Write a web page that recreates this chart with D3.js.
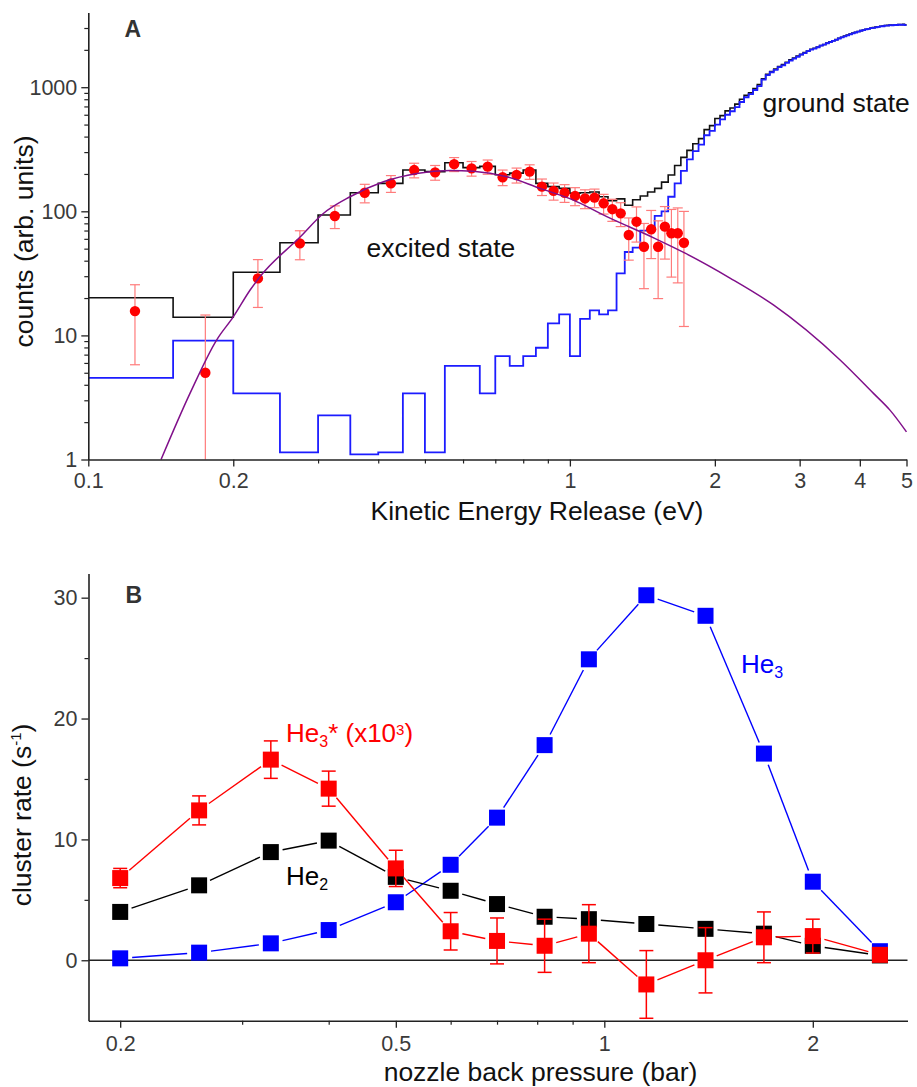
<!DOCTYPE html>
<html>
<head>
<meta charset="utf-8">
<script src="https://cdn.jsdelivr.net/npm/d3@7"></script>
<style>
  html, body { margin: 0; padding: 0; background: #fff; }
  svg { display: block; font-family: "Liberation Sans", Arial, Helvetica, sans-serif; }
</style>
</head>
<body>
<svg id="fig" width="917" height="1087"></svg>
<script>
// ---------- Panel A: kinetic energy release spectra ----------
// lower edges of the 0.05 eV histogram bins
const keBinStarts = [
  0.10, 0.15, 0.20, 0.25, 0.30, 0.35, 0.40, 0.45, 0.50, 0.55,
  0.60, 0.65, 0.70, 0.75, 0.80, 0.85, 0.90, 0.95, 1.00, 1.05,
  1.10, 1.15, 1.20, 1.25, 1.30, 1.35, 1.40, 1.45, 1.50, 1.55,
  1.60, 1.65, 1.70, 1.75, 1.80, 1.85, 1.90, 1.95, 2.00, 2.05,
  2.10, 2.15, 2.20, 2.25, 2.30, 2.35, 2.40, 2.45, 2.50, 2.55,
  2.60, 2.65, 2.70, 2.75, 2.80, 2.85, 2.90, 2.95, 3.00, 3.05,
  3.10, 3.15, 3.20, 3.25, 3.30, 3.35, 3.40, 3.45, 3.50, 3.55,
  3.60, 3.65, 3.70, 3.75, 3.80, 3.85, 3.90, 3.95, 4.00, 4.05,
  4.10, 4.15, 4.20, 4.25, 4.30, 4.35, 4.40, 4.45, 4.50, 4.55,
  4.60, 4.65, 4.70, 4.75, 4.80, 4.85, 4.90, 4.95
];
const keRangeEnd = 5.0;

// all events (black histogram)
const totalCounts = [
  20.1, 14.0, 32.3, 55.8, 93.4, 141, 168, 215, 209, 246,
  225, 230, 197, 203, 215, 168, 158, 153, 140, 141,
  143, 131, 122, 126, 112, 124, 133, 143, 153, 172,
  196, 234, 272, 310, 350, 385, 455, 490, 560, 590,
  645, 680, 730, 800, 860, 900, 975, 1050, 1170, 1270,
  1340, 1400, 1470, 1520, 1590, 1660, 1720, 1780, 1840, 1900,
  1960, 2020, 2060, 2110, 2170, 2210, 2270, 2320, 2370, 2420,
  2480, 2530, 2580, 2630, 2680, 2730, 2770, 2810, 2860, 2890,
  2930, 2960, 3000, 3020, 3050, 3070, 3100, 3110, 3140, 3150,
  3170, 3160, 3190, 3180, 3200, 3190, 3210, 3180
];

// ground state contribution (blue histogram)
const groundCounts = [
  4.54, 9.08, 3.41, 1.14, 2.27, 1.10, 1.14, 3.41, 1.14, 5.68,
  5.68, 3.41, 6.81, 5.68, 6.81, 7.95, 12.5, 14.8, 6.81, 13.6,
  15.9, 14.8, 15.9, 31.6, 47, 51, 70, 72, 92, 100,
  131, 168, 212, 262, 305, 345, 410, 445, 500, 550,
  600, 640, 690, 760, 830, 880, 950, 1020, 1150, 1250,
  1320, 1380, 1450, 1500, 1570, 1640, 1700, 1760, 1830, 1880,
  1950, 2010, 2050, 2100, 2160, 2200, 2260, 2310, 2360, 2410,
  2470, 2520, 2570, 2620, 2670, 2720, 2760, 2800, 2850, 2880,
  2920, 2950, 2990, 3010, 3040, 3060, 3090, 3100, 3130, 3140,
  3160, 3150, 3180, 3170, 3190, 3180, 3200, 3170
];

// excited state points (bin centres) with errors
const excitedE = [
  0.125, 0.175, 0.225, 0.275, 0.325, 0.375, 0.425, 0.475, 0.525, 0.575,
  0.625, 0.675, 0.725, 0.775, 0.825, 0.875, 0.925, 0.975, 1.025, 1.075,
  1.125, 1.175, 1.225, 1.275, 1.325, 1.375, 1.425, 1.475, 1.525, 1.575,
  1.625, 1.675, 1.725
];
const excitedCounts = [
  15.7, 5.0, 28.8, 55.2, 91.6, 141, 168, 215, 206, 240,
  222, 229, 188, 196, 209, 158, 146, 141, 133, 127,
  129, 116, 104, 96.3, 64.4, 82.5, 51.8, 71.6, 51.8, 75.2,
  66.5, 66.5, 55.8
];
const excitedErr = [
  9.9, 9.6, 12, 14.5, 19, 24, 26, 29, 28, 31,
  30, 30, 27, 27, 28, 24, 23, 23, 22, 22,
  22, 21, 21, 21, 24, 26, 28, 30, 32, 34,
  37, 40, 44
];

// model curve for the excited state
const fitE = [0.1416, 0.1626, 0.1848, 0.2, 0.2168, 0.2274, 0.2753, 0.3076, 0.3496, 0.41,
              0.481, 0.564, 0.63, 0.74, 0.867, 1.017, 1.193, 1.5, 1.735, 2.15,
              2.646, 3.64, 4.27, 4.62, 5.0];
const fitCounts = [1, 3.41, 9.22, 14.1, 23.2, 29.8, 62, 96, 131, 173,
                   202, 213, 210, 190, 153, 123, 90.5, 60.6, 46, 29,
                   17.6, 6.34, 3.41, 2.5, 1.67];

const keTicksMajor = [0.1, 0.2, 1, 2, 3, 4, 5];
const keTicksMinor = [0.3, 0.4, 0.5, 0.6, 0.7, 0.8, 0.9];
const countTicksMajor = [1, 10, 100, 1000];
const countTicksMinor = [2, 3, 4, 5, 6, 7, 8, 9, 20, 30, 40, 50, 60, 70, 80, 90,
                         200, 300, 400, 500, 600, 700, 800, 900, 2000, 3000];

// ---------- Panel B: cluster rates vs nozzle pressure ----------
const pressure = [0.2, 0.26, 0.33, 0.4, 0.5, 0.6, 0.7, 0.82, 0.95, 1.15, 1.4, 1.7, 2.0, 2.5];
const rateHe3 = [0.16, 0.63, 1.4, 2.5, 4.8, 7.9, 11.8, 17.8, 24.9, 30.2, 28.5, 17.1, 6.5, 0.75];
const rateHe2 = [4.0, 6.2, 8.95, 9.9, 6.9, 5.75, 4.65, 3.6, 3.4, 3.0, 2.6, 2.2, 1.2, 0.4];
const rateHe3Star = [6.8, 12.4, 16.6, 14.2, 7.6, 2.4, 1.6, 1.2, 2.2, -2.0, 0.0, 1.9, 2.0, 0.45];
const errHe3Star = [0.8, 1.2, 1.55, 1.45, 1.5, 1.55, 1.9, 2.2, 2.4, 2.8, 2.7, 2.1, 1.4, 0.3];

const pressureTicksMajor = [0.2, 0.5, 1, 2];
const pressureTicksMinor = [0.3, 0.4, 0.6, 0.7, 0.8, 0.9];
const rateTicksMajor = [0, 10, 20, 30];
const rateTicksMinor = [5, 15, 25];

// ---------- drawing ----------
const FONT = '"Liberation Sans", Arial, Helvetica, sans-serif';
const AXIS_COLOR = "#222";
const LABEL_COLOR = "#3a3a3a";
const svg = d3.select("#fig");
svg.append("rect").attr("width", 917).attr("height", 1087).attr("fill", "#fff");

function styleAxis(g, fontSize) {
  g.attr("font-family", FONT);
  g.select(".domain").attr("stroke", AXIS_COLOR).attr("stroke-width", 1.6);
  g.selectAll(".tick line").attr("stroke", AXIS_COLOR).attr("stroke-width", 1.3);
  g.selectAll(".tick text").attr("font-size", fontSize).attr("fill", LABEL_COLOR);
}
function minorAxis(g) {
  g.select(".domain").remove();
  g.selectAll(".tick line").attr("stroke", AXIS_COLOR).attr("stroke-width", 1.2);
}

// Panel A scales
const xA = d3.scaleLog().domain([0.1, 5]).range([88.3, 906.5]);
const yA = d3.scaleLog().domain([1, 4000]).range([459.5, 12.5]);

const gA = svg.append("g");

// histograms
const histLine = d3.line().x(d => xA(d[0])).y(d => yA(d[1])).curve(d3.curveStepAfter);
function histPoints(vals) {
  const pts = keBinStarts.map((e, i) => [e, vals[i]]);
  pts.push([keRangeEnd, vals[vals.length - 1]]);
  return pts;
}
gA.append("path").attr("d", histLine(histPoints(totalCounts)))
  .attr("fill", "none").attr("stroke", "#111").attr("stroke-width", 1.6);
gA.append("path").attr("d", histLine(histPoints(groundCounts)))
  .attr("fill", "none").attr("stroke", "#1c1cff").attr("stroke-width", 1.8);

// excited-state points with error bars
const exData = excitedE.map((e, i) => ({ e, v: excitedCounts[i], err: excitedErr[i] }));
const errA = gA.append("g").attr("stroke", "#ff7b7b").attr("stroke-width", 1.2);
exData.forEach(d => {
  const x = xA(d.e);
  const hi = d.v + d.err, lo = d.v - d.err;
  const yHi = yA(hi);
  const yLo = lo > 1 ? yA(lo) : yA(1);
  errA.append("line").attr("x1", x).attr("x2", x).attr("y1", yHi).attr("y2", yLo);
  errA.append("line").attr("x1", x - 5).attr("x2", x + 5).attr("y1", yHi).attr("y2", yHi);
  if (lo > 1) errA.append("line").attr("x1", x - 5).attr("x2", x + 5).attr("y1", yLo).attr("y2", yLo);
});
gA.append("g").selectAll("circle").data(exData).join("circle")
  .attr("cx", d => xA(d.e)).attr("cy", d => yA(d.v)).attr("r", 5.2).attr("fill", "#ff0000");

// model curve
const fitLine = d3.line().x(d => xA(d[0])).y(d => yA(d[1])).curve(d3.curveMonotoneX);
gA.append("path").attr("d", fitLine(fitE.map((e, i) => [e, fitCounts[i]])))
  .attr("fill", "none").attr("stroke", "#80108a").attr("stroke-width", 1.5);

// axes A
gA.append("g").attr("transform", "translate(0,459.5)")
  .call(d3.axisBottom(xA).tickValues(keTicksMinor).tickSize(4).tickFormat("")).call(minorAxis);
gA.append("g").attr("transform", "translate(0,459.5)")
  .call(d3.axisBottom(xA).tickValues(keTicksMajor).tickSize(7).tickSizeOuter(0).tickPadding(6.5)
        .tickFormat(d => String(d)))
  .call(g => styleAxis(g, 21.5));
gA.append("g").attr("transform", "translate(88.3,0)")
  .call(d3.axisLeft(yA).tickValues(countTicksMinor).tickSize(4).tickFormat("")).call(minorAxis);
gA.append("g").attr("transform", "translate(88.3,0)")
  .call(d3.axisLeft(yA).tickValues(countTicksMajor).tickSize(7).tickSizeOuter(0).tickPadding(4)
        .tickFormat(d3.format("d")))
  .call(g => styleAxis(g, 21.5));

// texts A
gA.append("text").attr("x", 124.5).attr("y", 36.5).attr("font-size", 23).attr("font-weight", "bold")
  .attr("fill", "#333").text("A");
gA.append("text").attr("x", 366.5).attr("y", 256.7).attr("font-size", 26.5).attr("fill", "#111")
  .text("excited state");
gA.append("text").attr("x", 762.5).attr("y", 111.7).attr("font-size", 26.5).attr("fill", "#111")
  .text("ground state");
gA.append("text").attr("x", 537).attr("y", 520).attr("font-size", 26.5).attr("fill", "#111")
  .attr("text-anchor", "middle").text("Kinetic Energy Release (eV)");
gA.append("text").attr("transform", "translate(33,241.5) rotate(-90)").attr("font-size", 26.5)
  .attr("fill", "#111").attr("text-anchor", "middle").text("counts (arb. units)");

// Panel B scales
const xB = d3.scaleLog().domain([0.18, 2.74]).range([88.5, 907.5]);
const yB = d3.scaleLinear().domain([-5, 32]).range([1020.7, 573.5]);

const gB = svg.append("g");

// zero line
gB.append("line").attr("x1", xB(0.18)).attr("x2", xB(2.74)).attr("y1", yB(0)).attr("y2", yB(0))
  .attr("stroke", AXIS_COLOR).attr("stroke-width", 1.4);

const GAP = 12;
function drawSeries(vals, color, errs) {
  const pts = pressure.map((p, i) => [xB(p), yB(vals[i])]);
  const g = gB.append("g");
  for (let i = 0; i < pts.length - 1; i++) {
    const [x0, y0] = pts[i], [x1, y1] = pts[i + 1];
    const dx = x1 - x0, dy = y1 - y0, len = Math.hypot(dx, dy);
    if (len <= 2 * GAP) continue;
    const ux = dx / len, uy = dy / len;
    g.append("line")
      .attr("x1", x0 + ux * GAP).attr("y1", y0 + uy * GAP)
      .attr("x2", x1 - ux * GAP).attr("y2", y1 - uy * GAP)
      .attr("stroke", color).attr("stroke-width", 1.4);
  }
  g.selectAll("rect").data(pts).join("rect")
    .attr("x", d => d[0] - 8).attr("y", d => d[1] - 8).attr("width", 16).attr("height", 16)
    .attr("fill", color);
  if (errs) {
    const ge = g.append("g").attr("stroke", color).attr("stroke-width", 1.5);
    pressure.forEach((p, i) => {
      const x = xB(p), yHi = yB(vals[i] + errs[i]), yLo = yB(vals[i] - errs[i]);
      ge.append("line").attr("x1", x).attr("x2", x).attr("y1", yHi).attr("y2", yLo);
      ge.append("line").attr("x1", x - 7).attr("x2", x + 7).attr("y1", yHi).attr("y2", yHi);
      ge.append("line").attr("x1", x - 7).attr("x2", x + 7).attr("y1", yLo).attr("y2", yLo);
    });
  }
}
drawSeries(rateHe3, "#0000ff", null);
drawSeries(rateHe2, "#000000", null);
drawSeries(rateHe3Star, "#ff0000", errHe3Star);

// axes B
gB.append("g").attr("transform", "translate(0,1020.7)")
  .call(d3.axisBottom(xB).tickValues(pressureTicksMinor).tickSize(4).tickFormat("")).call(minorAxis);
gB.append("g").attr("transform", "translate(0,1020.7)")
  .call(d3.axisBottom(xB).tickValues(pressureTicksMajor).tickSize(7).tickSizeOuter(0).tickPadding(8.5)
        .tickFormat(d => String(d)))
  .call(g => styleAxis(g, 21.5));
gB.append("g").attr("transform", "translate(88.5,0)")
  .call(d3.axisLeft(yB).tickValues(rateTicksMinor).tickSize(4).tickFormat("")).call(minorAxis);
gB.append("g").attr("transform", "translate(88.5,0)")
  .call(d3.axisLeft(yB).tickValues(rateTicksMajor).tickSize(7).tickSizeOuter(0).tickPadding(4)
        .tickFormat(d3.format("d")))
  .call(g => styleAxis(g, 21.5));

// texts B
gB.append("text").attr("x", 125.5).attr("y", 603.3).attr("font-size", 23).attr("font-weight", "bold")
  .attr("fill", "#333").text("B");

const lblStar = gB.append("text").attr("x", 286).attr("y", 741.7).attr("font-size", 26).attr("fill", "#ff0000");
lblStar.append("tspan").text("He");
lblStar.append("tspan").attr("font-size", 16).attr("dy", 5).text("3");
lblStar.append("tspan").attr("dy", -5).text("* (x10");
lblStar.append("tspan").attr("font-size", 15).attr("dy", -7).text("3");
lblStar.append("tspan").attr("dy", 7).text(")");

const lblHe3 = gB.append("text").attr("x", 741).attr("y", 673.3).attr("font-size", 26).attr("fill", "#0000ff");
lblHe3.append("tspan").text("He");
lblHe3.append("tspan").attr("font-size", 16).attr("dy", 5).text("3");

const lblHe2 = gB.append("text").attr("x", 286).attr("y", 885).attr("font-size", 26).attr("fill", "#000");
lblHe2.append("tspan").text("He");
lblHe2.append("tspan").attr("font-size", 16).attr("dy", 5).text("2");

gB.append("text").attr("x", 540.5).attr("y", 1081).attr("font-size", 26.5).attr("fill", "#111")
  .attr("text-anchor", "middle").text("nozzle back pressure (bar)");

const yTitleB = gB.append("text").attr("transform", "translate(31,815) rotate(-90)").attr("font-size", 26.5)
  .attr("fill", "#111").attr("text-anchor", "middle");
yTitleB.append("tspan").text("cluster rate (s");
yTitleB.append("tspan").attr("font-size", 15).attr("dy", -10).text("-1");
yTitleB.append("tspan").attr("dy", 10).text(")");
</script>
</body>
</html>
